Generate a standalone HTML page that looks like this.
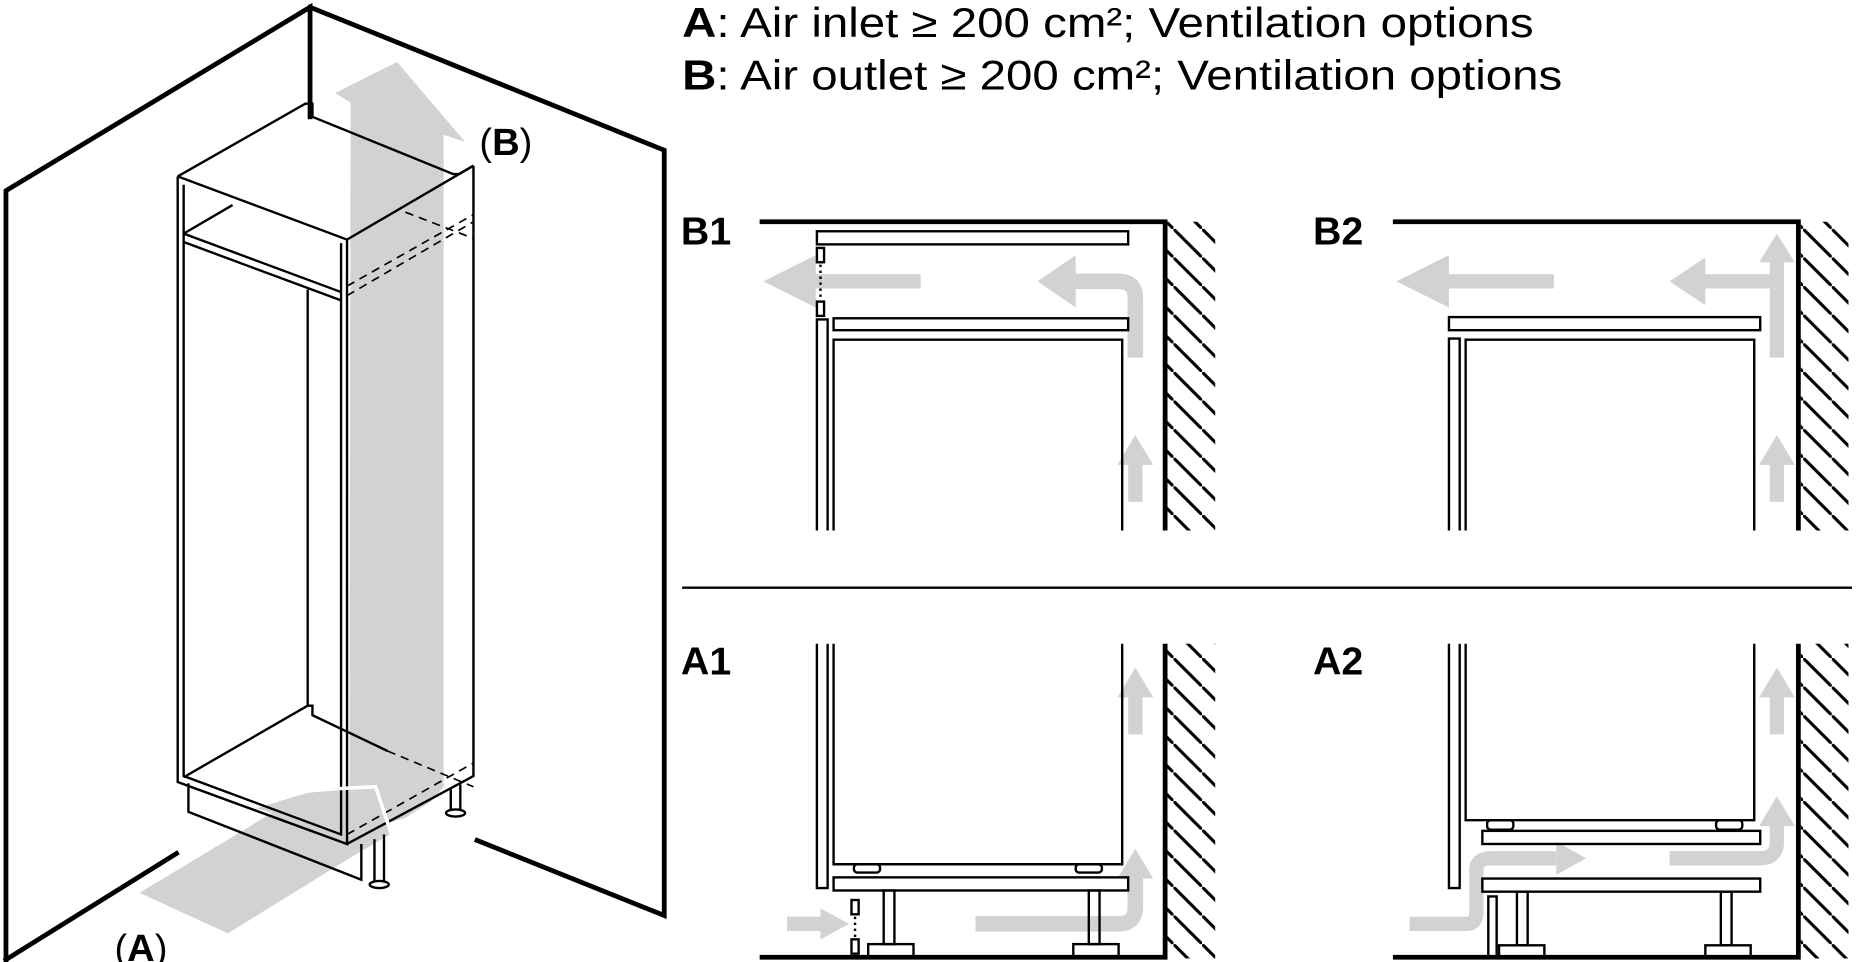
<!DOCTYPE html>
<html><head><meta charset="utf-8"><style>
html,body{margin:0;padding:0;background:#fff}
svg{display:block}
text{font-family:"Liberation Sans",sans-serif;fill:#000}
</style></head><body>
<svg width="1858" height="962" viewBox="0 0 1558 807" preserveAspectRatio="none" xmlns="http://www.w3.org/2000/svg">
<defs>
<pattern id="h" patternUnits="userSpaceOnUse" width="24" height="24">
<line x1="-2" y1="-2" x2="26" y2="26" stroke="#000" stroke-width="2.6"/>
</pattern>
</defs>
<rect width="1558" height="807" fill="#fff"/>

<!-- header text -->
<text x="572" y="31" font-size="35" textLength="714" lengthAdjust="spacingAndGlyphs"><tspan font-weight="bold">A</tspan>: Air inlet ≥ 200 cm²; Ventilation options</text>
<text x="572" y="75" font-size="35" textLength="738" lengthAdjust="spacingAndGlyphs"><tspan font-weight="bold">B</tspan>: Air outlet ≥ 200 cm²; Ventilation options</text>

<!-- LEFT ISOMETRIC -->
<g fill="none" stroke="#000" stroke-linecap="square">
<polyline points="5,805 5,160 260,6 260,98" stroke-width="4"/>
<polyline points="260,6 557,126 557,768 400,705" stroke-width="4"/>
<line x1="5" y1="805" x2="148" y2="716" stroke-width="4"/>
</g>
<g fill="#d2d2d2">
<polygon points="294,86 281,78 333,52 390,119 372,113 372,660 362,672 340,686 293,700"/>
<polygon points="117,749 228,682 215,678 258,665 320,660 327,700 293,720 191,783"/>
</g>
<g fill="none" stroke="#000" stroke-width="2">
<polyline points="149,148 256,87 262,87 262,98 380,146 385,146 397,139"/>
<polyline points="149,148 291,201 397,139"/>
<polyline points="149,148 149,656 291,708 291,201"/>
<polyline points="154,155 154,651 286,700 286,204"/>
<polyline points="154,196 286,245"/>
<polyline points="154,203 286,252"/>
<line x1="154" y1="196" x2="195" y2="172"/>
<line x1="258" y1="243" x2="258" y2="592"/>
<polyline points="258,592 262,592 262,600 325,630"/>
<line x1="154" y1="652" x2="258" y2="592"/>
<polyline points="397,139 397,651 291,708"/>
<polyline points="158,657 158,681 303,738 303,708"/>
<line x1="314" y1="704" x2="314" y2="740"/>
<line x1="322" y1="700" x2="322" y2="740"/>
<ellipse cx="318" cy="742" rx="8" ry="3"/>
<line x1="378" y1="662" x2="378" y2="680"/>
<line x1="386" y1="658" x2="386" y2="680"/>
<ellipse cx="382" cy="682" rx="8" ry="3"/>
</g>
<g fill="none" stroke="#000" stroke-width="1.4" stroke-dasharray="7,5">
<line x1="291" y1="248" x2="397" y2="186"/>
<line x1="291" y1="240" x2="397" y2="180"/>
<line x1="340" y1="178" x2="397" y2="200"/>
<line x1="325" y1="630" x2="397" y2="660"/>
<line x1="291" y1="700" x2="397" y2="640"/>
</g>
<polyline points="217,665 315,660 330,705" fill="none" stroke="#fff" stroke-width="3"/>
<text x="402" y="130" font-size="32">(<tspan font-weight="bold">B</tspan>)</text>
<text x="96" y="806" font-size="32">(<tspan font-weight="bold">A</tspan>)</text>

<line x1="572" y1="493" x2="1553" y2="493" stroke="#000" stroke-width="2"/>

<!-- B1 -->
<g>
<text x="571" y="205" font-size="33" font-weight="bold">B1</text>
<rect x="979" y="186" width="40" height="259" fill="url(#h)"/>
<polyline points="637,186 977,186 977,445" fill="none" stroke="#000" stroke-width="4"/>
<g fill="#d2d2d2">
<rect x="682" y="230" width="90" height="12"/><polygon points="640,236 684,214 684,258"/>
<path d="M952,300 V250 Q952,236 938,236 H900" fill="none" stroke="#d2d2d2" stroke-width="13"/><polygon points="870,236 902,214 902,258"/>
<rect x="946" y="385" width="12" height="36"/><polygon points="952,365 937,390 967,390"/>
</g>
<g fill="none" stroke="#000" stroke-width="2">
<rect x="685" y="194" width="261" height="11"/>
<rect x="685" y="208" width="6" height="12"/>
<rect x="685" y="253" width="6" height="12"/>
<line x1="688" y1="222" x2="688" y2="251" stroke-dasharray="2,3"/>
<rect x="699" y="267" width="247" height="10"/>
<polyline points="685,445 685,268 694,268 694,445"/>
<polyline points="699,445 699,285 941,285 941,445"/>
</g>
</g>

<!-- B2 -->
<g>
<text x="1101" y="205" font-size="33" font-weight="bold">B2</text>
<rect x="1510" y="186" width="40" height="259" fill="url(#h)"/>
<polyline points="1168,186 1508,186 1508,445" fill="none" stroke="#000" stroke-width="4"/>
<g fill="#d2d2d2">
<rect x="1212" y="230" width="91" height="12"/><polygon points="1171,236 1215,214 1215,258"/>
<rect x="1484" y="214" width="12" height="86"/><polygon points="1490,196 1475,220 1505,220"/>
<rect x="1428" y="230" width="60" height="12"/><polygon points="1400,236 1430,216 1430,256"/>
<rect x="1484" y="385" width="12" height="36"/><polygon points="1490,365 1475,390 1505,390"/>
</g>
<g fill="none" stroke="#000" stroke-width="2">
<rect x="1215" y="266" width="261" height="11"/>
<polyline points="1215,445 1215,284 1224,284 1224,445"/>
<polyline points="1229,445 1229,285 1471,285 1471,445"/>
</g>
</g>

<!-- A1 -->
<g>
<text x="571" y="566" font-size="33" font-weight="bold">A1</text>
<rect x="979" y="540" width="40" height="264" fill="url(#h)"/>
<polyline points="637,803 977,803 977,540" fill="none" stroke="#000" stroke-width="4"/>
<g fill="#d2d2d2">
<rect x="946" y="580" width="12" height="36"/><polygon points="952,560 937,585 967,585"/>
<rect x="660" y="769" width="30" height="12"/><polygon points="712,775 688,762 688,788"/>
<path d="M818,775 H938 Q952,775 952,761 V735" fill="none" stroke="#d2d2d2" stroke-width="13"/><polygon points="952,712 937,737 967,737"/>
</g>
<g fill="none" stroke="#000" stroke-width="2">
<polyline points="685,540 685,745 694,745 694,540"/>
<polyline points="699,540 699,725 941,725 941,540"/>
<rect x="716" y="725" width="22" height="7" rx="3"/>
<rect x="902" y="725" width="22" height="7" rx="3"/>
<rect x="699" y="736" width="247" height="11"/>
<rect x="741" y="747" width="9" height="45"/>
<rect x="913" y="747" width="9" height="45"/>
<rect x="728" y="792" width="38" height="11"/>
<rect x="900" y="792" width="38" height="11"/>
<rect x="714" y="755" width="6" height="12"/>
<rect x="714" y="788" width="6" height="12"/>
<line x1="717" y1="769" x2="717" y2="787" stroke-dasharray="2,3"/>
</g>
</g>

<!-- A2 -->
<g>
<text x="1101" y="566" font-size="33" font-weight="bold">A2</text>
<rect x="1510" y="540" width="40" height="264" fill="url(#h)"/>
<polyline points="1168,803 1508,803 1508,540" fill="none" stroke="#000" stroke-width="4"/>
<g fill="#d2d2d2">
<rect x="1484" y="580" width="12" height="36"/><polygon points="1490,560 1475,585 1505,585"/>
<path d="M1182,775 H1230 Q1238,775 1238,765 V730 Q1238,720 1250,720 H1305" fill="none" stroke="#d2d2d2" stroke-width="12"/><polygon points="1330,720 1305,706 1305,734"/>
<path d="M1400,720 H1476 Q1490,720 1490,706 V690" fill="none" stroke="#d2d2d2" stroke-width="12"/><polygon points="1490,668 1475,693 1505,693"/>
</g>
<g fill="none" stroke="#000" stroke-width="2">
<polyline points="1215,540 1215,745 1224,745 1224,540"/>
<polyline points="1229,540 1229,688 1471,688 1471,540"/>
<rect x="1247" y="688" width="22" height="8" rx="3"/>
<rect x="1439" y="688" width="22" height="8" rx="3"/>
<rect x="1243" y="697" width="233" height="11"/>
<rect x="1243" y="737" width="233" height="11"/>
<rect x="1272" y="748" width="9" height="45"/>
<rect x="1443" y="748" width="9" height="45"/>
<rect x="1257" y="793" width="38" height="10"/>
<rect x="1430" y="793" width="38" height="10"/>
<rect x="1248" y="752" width="7" height="51"/>
</g>
</g>
</svg>
</body></html>
